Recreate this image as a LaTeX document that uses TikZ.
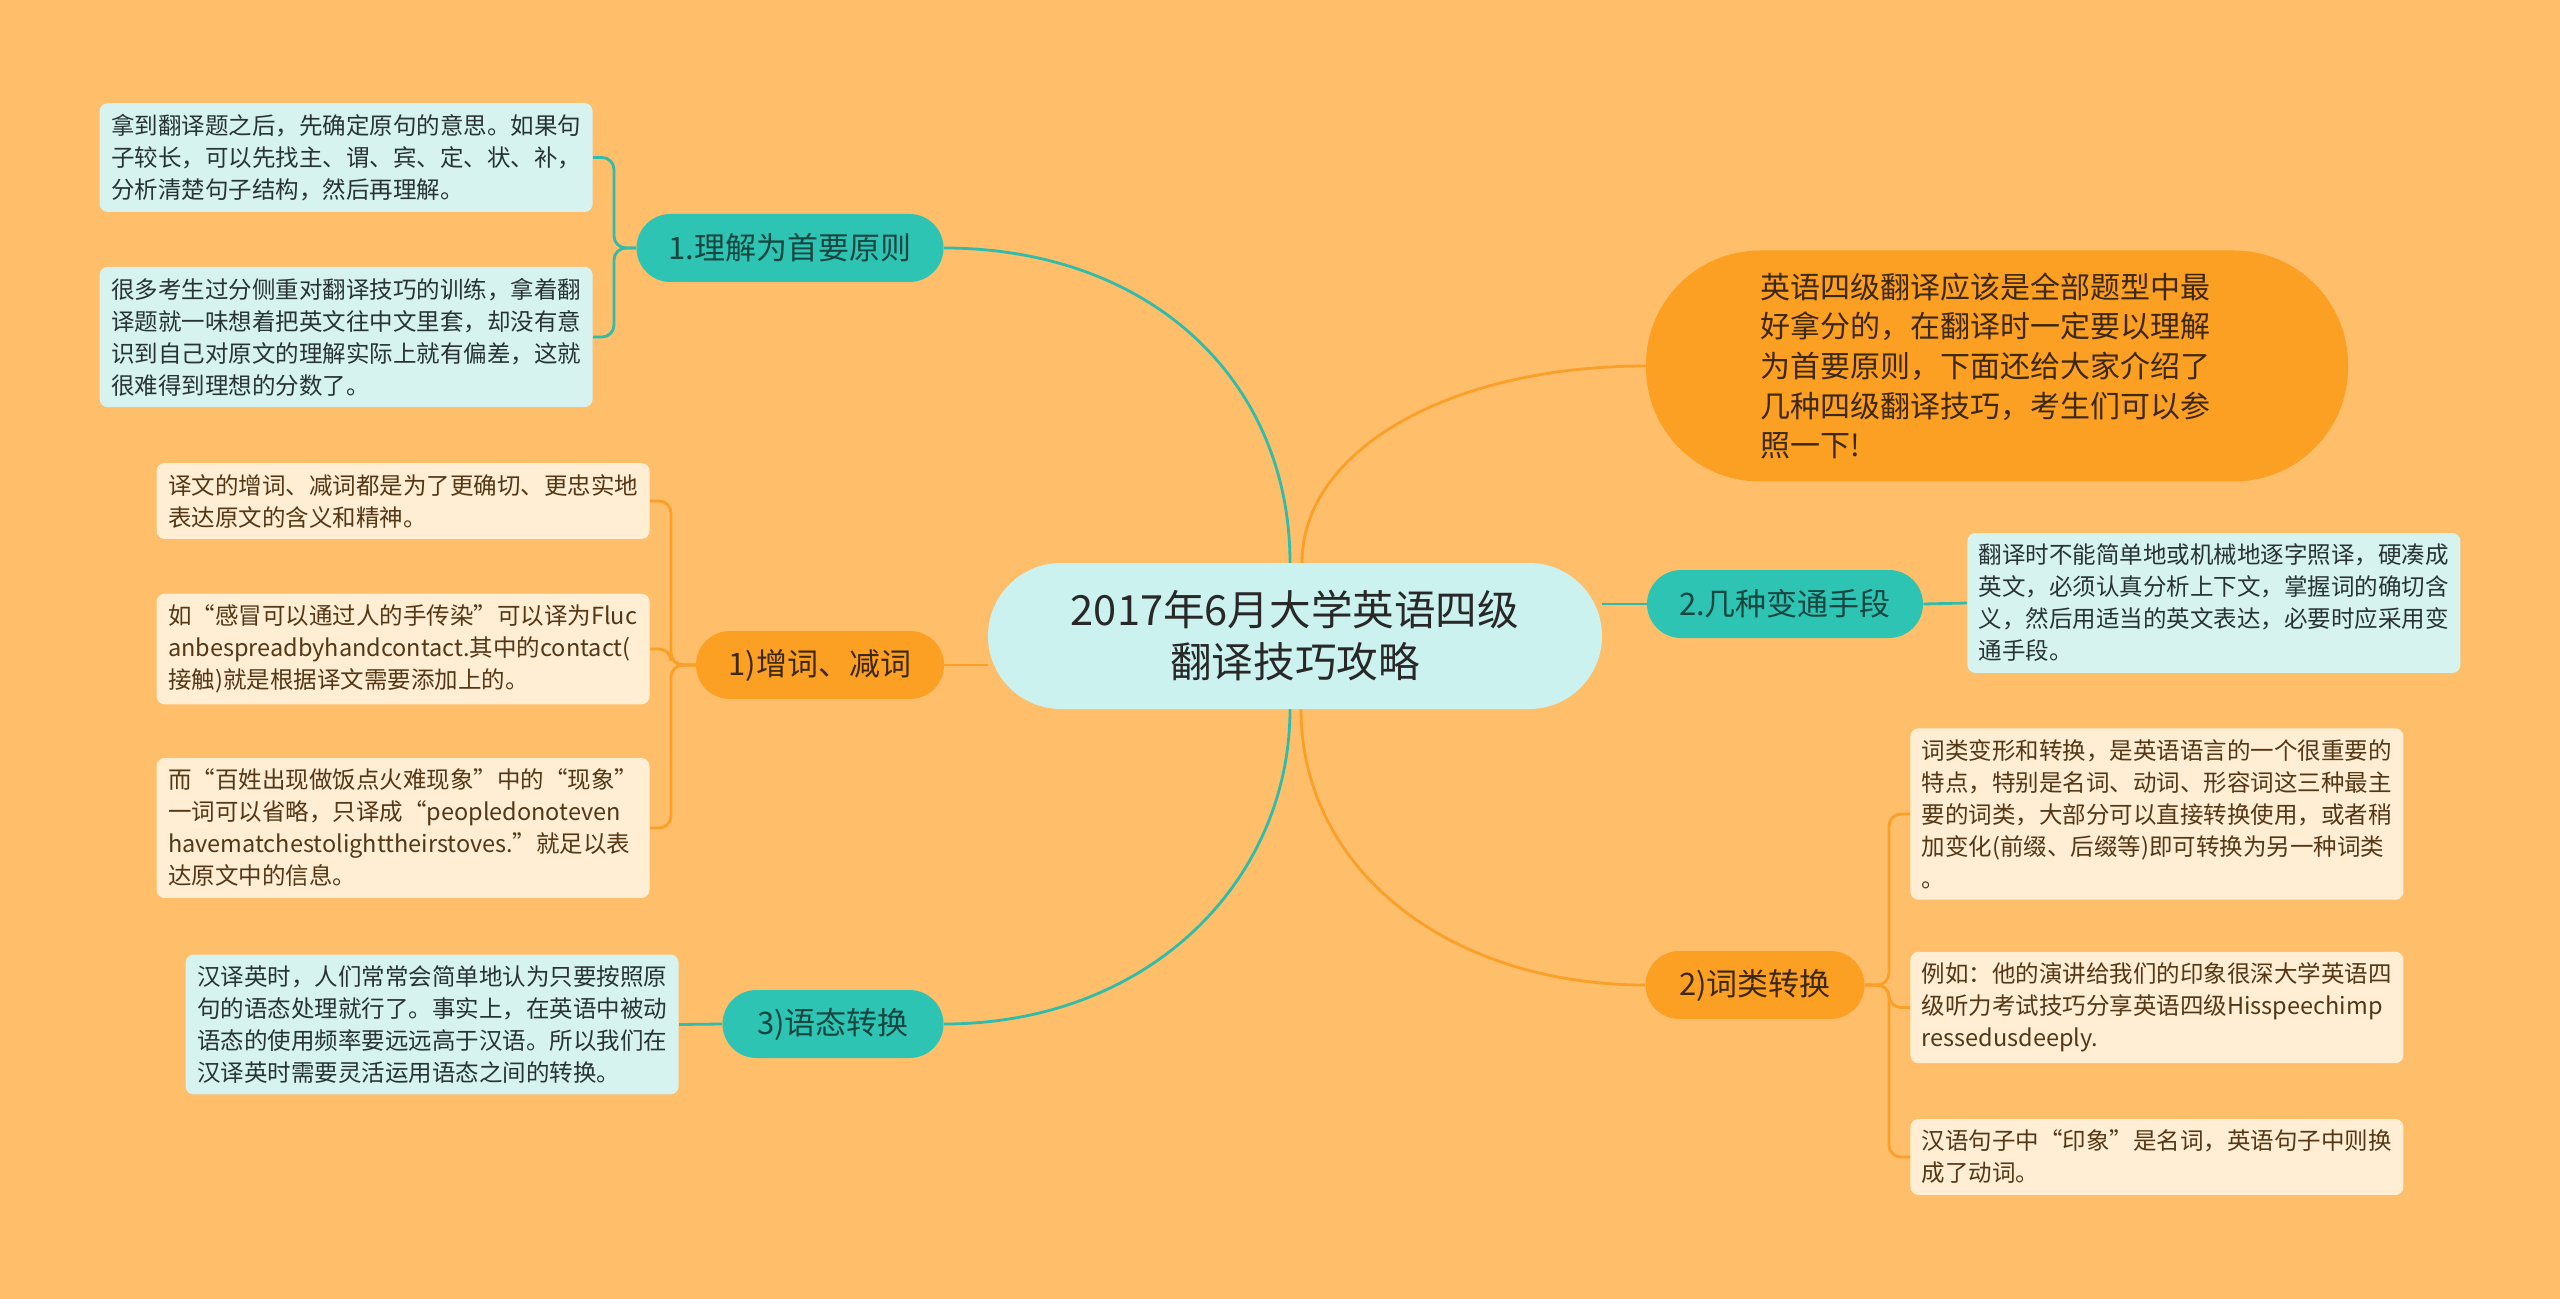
\documentclass[tikz,border=0pt]{standalone}
\usepackage{fontspec}
\setmainfont{Noto Sans CJK SC}
\usetikzlibrary{backgrounds}

\definecolor{bgOrange}{RGB}{254,190,106}
\definecolor{titleCyan}{RGB}{204,242,240}
\definecolor{leafCyan}{RGB}{214,243,240}
\definecolor{leafCream}{RGB}{255,238,212}
\definecolor{topicTealFill}{RGB}{46,196,180}
\definecolor{topicOrangeFill}{RGB}{252,160,36}
\definecolor{lineTeal}{RGB}{48,188,170}
\definecolor{lineOrange}{RGB}{250,160,40}
\definecolor{darkText}{RGB}{40,40,40}
\definecolor{leafTealText}{RGB}{40,52,52}
\definecolor{leafOrangeText}{RGB}{85,55,22}
\definecolor{topicTealText}{RGB}{22,70,64}
\definecolor{topicOrangeText}{RGB}{62,40,12}

\newcommand{\leafFont}{\fontsize{11.75pt}{16pt}\selectfont}
\newcommand{\topicFont}{\fontsize{15.5pt}{19pt}\selectfont}
\newcommand{\titleFont}{\fontsize{20.8pt}{26pt}\selectfont}
\newcommand{\introFont}{\fontsize{15pt}{19.8pt}\selectfont}

\begin{document}
\begin{tikzpicture}[x=0.5pt, y=-0.5pt,
	leafTeal/.style={fill=leafCyan, text=leafTealText, rounded corners=4pt, text width=235pt, align=left, inner xsep=5.75pt, inner ysep=5.5pt, font=\leafFont},
	leafOrange/.style={leafTeal, fill=leafCream, text=leafOrangeText},
	topicTeal/.style={fill=topicTealFill, text=topicTealText, rounded corners=17pt, minimum height=34pt, font=\topicFont},
	topicOrange/.style={topicTeal, fill=topicOrangeFill, text=topicOrangeText},
	tealLine/.style={draw=lineTeal, line width=1.4pt},
	orangeLine/.style={draw=lineOrange, line width=1.4pt},
	bracket/.style={rounded corners=6pt}]

	\useasboundingbox (0,0) rectangle (2560,1299);

% Define nodes.

	%centre
	\node[fill=titleCyan, text=darkText, rounded corners=36.5pt, minimum width=307pt, minimum height=73pt, align=center, font=\titleFont] (title) at (1295,636) {2017年6月大学英语四级\\翻译技巧攻略};
	\node[fill=topicOrangeFill, text=topicOrangeText, rounded corners=57pt, minimum width=351pt, minimum height=115.5pt, text width=237pt, align=left, font=\introFont] (intro) at (1997,366) {英语四级翻译应该是全部题型中最\\好拿分的，在翻译时一定要以理解\\为首要原则，下面还给大家介绍了\\几种四级翻译技巧，考生们可以参\\照一下!};

	%topics
	\node[topicTeal, minimum width=153.5pt] (understand) at (790,248) {1.理解为首要原则};
	\node[topicOrange, minimum width=124pt] (addWords) at (820,665) {1)增词、减词};
	\node[topicTeal, minimum width=110.5pt] (voice) at (833,1024) {3)语态转换};
	\node[topicTeal, minimum width=138pt] (flexible) at (1785,604) {2.几种变通手段};
	\node[topicOrange, minimum width=109.5pt] (wordClass) at (1755,985) {2)词类转换};

	%left leaves
	\node[leafTeal, anchor=east] (understandA) at (593,157.5) {拿到翻译题之后，先确定原句的意思。如果句\\子较长，可以先找主、谓、宾、定、状、补，\\分析清楚句子结构，然后再理解。};
	\node[leafTeal, anchor=east] (understandB) at (593,337) {很多考生过分侧重对翻译技巧的训练，拿着翻\\译题就一味想着把英文往中文里套，却没有意\\识到自己对原文的理解实际上就有偏差，这就\\很难得到理想的分数了。};
	\node[leafOrange, anchor=east] (addA) at (650,501) {译文的增词、减词都是为了更确切、更忠实地\\表达原文的含义和精神。};
	\node[leafOrange, anchor=east] (addB) at (650,649) {如“感冒可以通过人的手传染”可以译为Fluc\\anbespreadbyhandcontact.其中的contact(\\接触)就是根据译文需要添加上的。};
	\node[leafOrange, anchor=east] (addC) at (650,828) {而“百姓出现做饭点火难现象”中的“现象”\\一词可以省略，只译成“peopledonoteven\\havematchestolighttheirstoves.”就足以表\\达原文中的信息。};
	\node[leafTeal, anchor=east] (voiceA) at (679,1024.5) {汉译英时，人们常常会简单地认为只要按照原\\句的语态处理就行了。事实上，在英语中被动\\语态的使用频率要远远高于汉语。所以我们在\\汉译英时需要灵活运用语态之间的转换。};

	%right leaves
	\node[leafTeal, anchor=west] (flexibleA) at (1967,603) {翻译时不能简单地或机械地逐字照译，硬凑成\\英文，必须认真分析上下文，掌握词的确切含\\义，然后用适当的英文表达，必要时应采用变\\通手段。};
	\node[leafOrange, anchor=west] (wordClassA) at (1910,814) {词类变形和转换，是英语语言的一个很重要的\\特点，特别是名词、动词、形容词这三种最主\\要的词类，大部分可以直接转换使用，或者稍\\加变化(前缀、后缀等)即可转换为另一种词类\\。};
	\node[leafOrange, anchor=west] (wordClassB) at (1910,1007.5) {例如：他的演讲给我们的印象很深大学英语四\\级听力考试技巧分享英语四级Hisspeechimp\\ressedusdeeply.};
	\node[leafOrange, anchor=west] (wordClassC) at (1910,1157) {汉语句子中“印象”是名词，英语句子中则换\\成了动词。};

% Define coordinates.

	%curve ends on the title
	\coordinate (tealTop) at (1290,563);
	\coordinate (orangeTop) at (1302,563);
	\coordinate (tealBottom) at (1290,709);
	\coordinate (orangeBottom) at (1301,709);

	%forks
	\coordinate (understandFork) at (614,248);
	\coordinate (addFork) at (671,665);
	\coordinate (wordClassFork) at (1889,985);

% Draw connectors.

	\begin{scope}[on background layer]
	\fill[bgOrange] (0,0) rectangle (2560,1299);

	\draw[tealLine] (tealTop) .. controls +(0,-183) and +(206,0) .. (understand.east);
	\draw[orangeLine] (orangeTop) .. controls +(0,-113) and +(-196,0) .. (intro.west);
	\draw[tealLine] (tealBottom) .. controls +(0,171) and +(206,0) .. (voice.east);
	\draw[orangeLine] (orangeBottom) .. controls +(0,161) and +(-196,0) .. (wordClass.west);
	\draw[orangeLine] (addWords.east) -- (addWords.east -| title.west);
	\draw[tealLine] (flexible.west) -- (flexible.west -| title.east);

	\draw[tealLine, bracket] (understand.west) -- (understandFork) |- (understandA.east);
	\draw[tealLine, bracket] (understand.west) -- (understandFork) |- (understandB.east);

	\draw[orangeLine, bracket] (addWords.west) -- (addFork) |- (addA.east);
	\draw[orangeLine, bracket] (addWords.west) -- (addFork) |- (addB.east);
	\draw[orangeLine, bracket] (addWords.west) -- (addFork) |- (addC.east);

	\draw[tealLine] (voice.west) -- (voiceA.east);
	\draw[tealLine] (flexible.east) -- (flexibleA.west);

	\draw[orangeLine, bracket] (wordClass.east) -- (wordClassFork) |- (wordClassA.west);
	\draw[orangeLine, bracket] (wordClass.east) -- (wordClassFork) |- (wordClassB.west);
	\draw[orangeLine, bracket] (wordClass.east) -- (wordClassFork) |- (wordClassC.west);
	\end{scope}

\end{tikzpicture}
\end{document}
